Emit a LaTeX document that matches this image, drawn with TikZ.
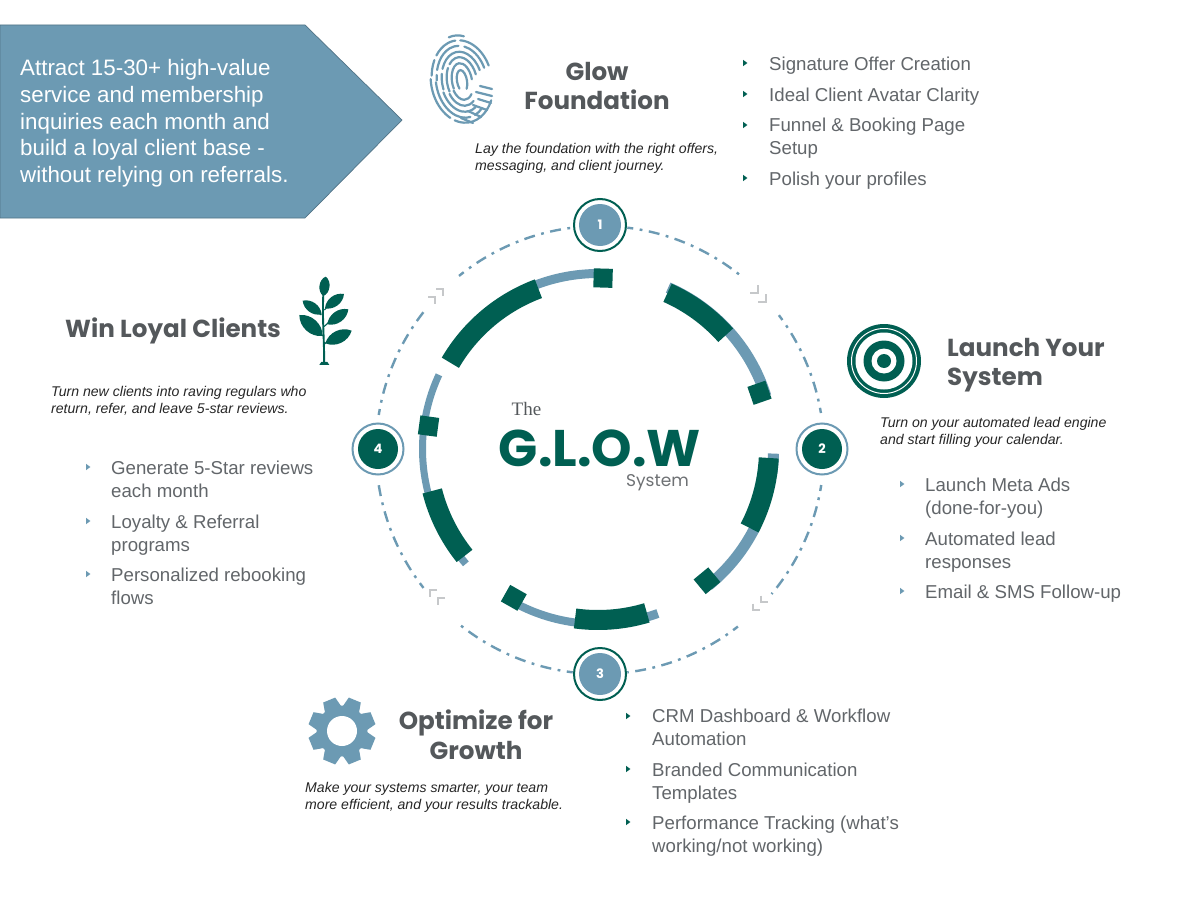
\documentclass[tikz,border=0pt]{standalone}
\usepackage{fontspec}
\setmainfont{Liberation Sans}
\newfontfamily\popfont{Poppins}
\newfontfamily\serfont{Liberation Serif}
\definecolor{glowgreen}{HTML}{005F52}
\definecolor{glowblue}{HTML}{6C9AB3}
\definecolor{headgray}{HTML}{54585B}
\definecolor{bodygray}{HTML}{62666A}
\definecolor{chevgray}{HTML}{C6C8CA}
\newcommand{\fs}[2]{\fontsize{#1}{#2}\selectfont}
\tikzset{
  x=1pt,y=1pt,
  heading/.style={font=\popfont\bfseries\fs{24.6}{30},text=headgray,inner sep=0pt,align=center},
  desc/.style={font=\itshape\fs{14.1}{17},text=black!85,inner sep=0pt,align=left,anchor=base west},
  item/.style={font=\fs{18.65}{23},text=bodygray,inner sep=0pt,align=left,anchor=base west},
  thinarc/.style={draw=glowblue,line width=9pt},
  thickarc/.style={draw=glowgreen,line width=20pt},
  dashring/.style={draw=glowblue,line width=2.4pt,dash pattern=on 11pt off 6.5pt on 2.8pt off 6.5pt,dash phase=5pt},
  chev/.style={draw=chevgray,line width=1.6pt,line cap=butt},
  numblue/.style={circle,fill=glowblue,minimum size=42pt,inner sep=0pt,text=white,font=\popfont\bfseries\fs{13}{15}},
  numgreen/.style={circle,fill=glowgreen,minimum size=40pt,inner sep=0pt,text=white,font=\popfont\bfseries\fs{13}{15}},
  ringgreen/.style={circle,draw=glowgreen,line width=2pt,minimum size=52pt,inner sep=0pt},
  ringblue/.style={circle,draw=glowblue,line width=2pt,minimum size=51pt,inner sep=0pt},
  finger/.style={draw=glowblue,line width=2.2pt,line cap=round},
}
% bullet triangle
\newcommand{\tri}[3]{\fill[#3] (#1-2,-#2-3.2) -- (#1+2.4,-#2) -- (#1-2,-#2+3.2) -- cycle;}
% arc on a circle about (cx,-cy): radius, from, to
\newcommand{\ringarc}[6]{\draw[#1] ({#2+#4*cos(#5)},{-#3+#4*sin(#5)}) arc[start angle=#5,end angle=#6,radius=#4];}
% square marker on ring
\newcommand{\marker}[1]{\fill[glowgreen,shift={({598+171*cos(#1)},{-449+171*sin(#1)})},rotate=#1] (-9.5,-9.5) rectangle (9.5,9.5);}
\newcommand{\leaf}[5]{\fill[glowgreen] (#1,-#2) to[bend left=#5] (#3,-#4) to[bend left=#5] (#1,-#2);}
\begin{document}
\begin{tikzpicture}
\useasboundingbox (0,-899) rectangle (1200,0);
\fill[white] (0,-899) rectangle (1200,0);

% --- banner arrow
\node[draw=none,inner sep=0pt] (bannerpt) at (402,-120) {};
\filldraw[fill=glowblue,draw=glowblue!75!black,line width=0.7pt] (0,-25) -- (305,-25) -- (bannerpt.center) -- (305,-218) -- (0,-218) -- cycle;
\node[font=\fs{22.35}{26.7},text=white,inner sep=0pt,align=left,anchor=base west] (bannertext) at (20,-182.5)
  {Attract 15-30+ high-value\\service and membership\\inquiries each month and\\build a loyal client base -\\without relying on referrals.};

% --- inner ring: thin arcs
\ringarc{thinarc}{598}{449}{175.5}{89}{111}
\ringarc{thinarc,line width=11pt}{598}{449}{176}{66.5}{17.5}
\ringarc{thinarc,line width=7pt}{598}{449}{175.5}{155}{196}
\ringarc{thinarc,line width=7.5pt}{598}{449}{175}{216}{221}
\ringarc{thinarc,line width=8pt}{598}{449}{175}{240}{264}
\ringarc{thinarc}{598}{449}{175}{284}{290}
\ringarc{thinarc,line width=11pt}{598}{449}{175.5}{309}{334}
\ringarc{thinarc,line width=11pt}{598}{449}{175.5}{352}{358.5}
% thick arcs
\ringarc{thickarc}{598}{449}{171}{110.4}{149.7}
\ringarc{thickarc}{598}{449}{171}{66}{41.7}
\ringarc{thickarc}{598}{449}{171}{194.2}{218.7}
\ringarc{thickarc}{598}{449}{171}{262.3}{286.6}
\ringarc{thickarc}{598}{449}{171}{332.5}{357}
% square markers
\marker{88.3}
\marker{19.2}
\marker{172.3}
\marker{240.5}
\marker{309.6}

% --- outer dash-dot ring
\ringarc{dashring}{600}{450}{224}{83}{51}
\ringarc{dashring}{600}{450}{224}{37}{9.5}
\ringarc{dashring}{600}{450}{224}{-9}{-40}
\ringarc{dashring}{600}{450}{224}{-52}{-83}
\ringarc{dashring}{600}{450}{224}{263}{231}
\ringarc{dashring}{600}{450}{224}{218}{189}
\ringarc{dashring}{600}{450}{224}{171}{142}
\ringarc{dashring}{600}{450}{224}{129}{97}

% chevrons
\foreach \cx/\cy in {757.7/292.7,765.7/301.7}{\draw[chev] (\cx-7.5,-\cy) -- (\cx,-\cy) -- (\cx,-\cy+7.5);}
\foreach \cx/\cy in {761/602,753/610}{\draw[chev] (\cx,-\cy+6.5) -- (\cx,-\cy) -- (\cx+7,-\cy);}
\foreach \cx/\cy in {430/590,438/598}{\draw[chev] (\cx+7,-\cy) -- (\cx,-\cy) -- (\cx,-\cy-7);}
\foreach \cx/\cy in {443/289,435/297}{\draw[chev] (\cx-7,-\cy) -- (\cx,-\cy) -- (\cx,-\cy-7);}

% --- numbered circles
\node[ringgreen,fill=white] (ring1) at (600,-225) {};
\node[numblue] (n1) at (600,-225) {1};
\node[ringblue,fill=white] (ring2) at (822,-449) {};
\node[numgreen] (n2) at (822,-449) {2};
\node[ringgreen,fill=white] (ring3) at (600,-674) {};
\node[numblue] (n3) at (600,-674) {3};
\node[ringblue,fill=white] (ring4) at (378,-449) {};
\node[numgreen] (n4) at (378,-449) {4};

% --- centre title
\node[font=\serfont\fs{19}{20},text=headgray,inner sep=0pt,anchor=base] (the) at (526.5,-415) {The};
\node[font=\popfont\bfseries\fs{51.5}{54},text=glowgreen,inner sep=0pt,anchor=base] (glow) at (600,-466) {G.L.O.W};
\node[font=\popfont\fs{17}{18},text=headgray!85,inner sep=0pt,anchor=base] (sys) at (657.5,-486) {System};

% --- headings
\node[heading,anchor=base] (h1) at (597,-81) {Glow};
\node[heading,anchor=base] (h1b) at (597,-110) {Foundation};
\node[heading,anchor=base west] (h4) at (65,-337) {Win Loyal Clients};
\node[heading,anchor=base west] (h2) at (947,-356) {Launch Your};
\node[heading,anchor=base west] (h2b) at (947,-385) {System};
\node[heading,anchor=base] (h3) at (476,-729) {Optimize for};
\node[heading,anchor=base] (h3b) at (476,-759) {Growth};

% --- descriptions (y = baseline of the last line)
\node[desc] (d1) at (475,-170) {Lay the foundation with the right offers,\\messaging, and client journey.};
\node[desc] (d4) at (51,-413) {Turn new clients into raving regulars who\\return, refer, and leave 5-star reviews.};
\node[desc] (d2) at (880,-444) {Turn on your automated lead engine\\and start filling your calendar.};
\node[desc] (d3) at (305,-809) {Make your systems smarter, your team\\more efficient, and your results trackable.};

% --- lists (y = baseline of the last line)
\node[item] (t1) at (769,-70.5) {Signature Offer Creation};
\node[item] (t2) at (769,-101.5) {Ideal Client Avatar Clarity};
\node[item] (t3) at (769,-154.5) {Funnel \& Booking Page\\Setup};
\node[item] (t4) at (769,-185.5) {Polish your profiles};
\tri{745}{63}{glowgreen}\tri{745}{94}{glowgreen}\tri{745}{125}{glowgreen}\tri{745}{178}{glowgreen}

\node[item] (l1) at (111,-497.5) {Generate 5-Star reviews\\each month};
\node[item] (l2) at (111,-551.5) {Loyalty \& Referral\\programs};
\node[item] (l3) at (111,-604.5) {Personalized rebooking\\flows};
\tri{88}{467}{glowblue}\tri{88}{521}{glowblue}\tri{88}{574}{glowblue}

\node[item] (r1) at (925,-514.5) {Launch Meta Ads\\(done-for-you)};
\node[item] (r2) at (925,-568.5) {Automated lead\\responses};
\node[item] (r3) at (925,-598.5) {Email \& SMS Follow-up};
\tri{902}{484}{glowblue}\tri{902}{538}{glowblue}\tri{902}{591}{glowblue}

\node[item] (b1) at (652,-745.5) {CRM Dashboard \& Workflow\\Automation};
\node[item] (b2) at (652,-799.5) {Branded Communication\\Templates};
\node[item] (b3) at (652,-852.5) {Performance Tracking (what's\\working/not working)};
\tri{628}{716}{glowgreen}\tri{628}{769}{glowgreen}\tri{628}{822}{glowgreen}

% --- fingerprint icon
\begin{scope}[shift={(462,-81)},rotate=10]
  \foreach \rx/\ry/\st/\en/\dsh in {
    31/46/72/100/{on 200pt},
    30/41/15/165/{on 40pt off 5pt on 25pt off 5pt},
    31/42/170/325/{on 45pt off 5pt on 70pt off 6pt},
    25/35.5/15/172/{on 30pt off 6pt on 35pt off 5pt},
    26/37/175/305/{on 55pt off 5pt on 30pt off 5pt},
    20/29.5/15/190/{on 55pt off 5pt},
    21/31/195/295/{on 45pt off 5pt},
    15/24/10/200/{on 38pt off 4pt},
    16/25/205/300/{on 200pt},
    10/18/0/200/{on 200pt},
    11/19/205/310/{on 200pt},
    5/11/-50/220/{on 200pt}}{
    \draw[finger,dash pattern/.expanded=\dsh]
      ({\rx*cos(\st)},{\ry*sin(\st)}) arc[start angle=\st,end angle=\en,x radius=\rx,y radius=\ry];
  }
\end{scope}
\foreach \a/\b/\c/\d in {480/86/492/89, 476/92/492/96, 478/99/491/103, 473/105/487/110, 468/111/481/117, 461/118/473/123}{
  \draw[finger] (\a,-\b) -- (\c,-\d);
}

% --- plant icon
\begin{scope}[shift={(280,-270)},scale=0.3333]
  \draw[glowgreen,line width=1.9pt] (132,-283) .. controls (134,-220) and (126,-150) .. (130,-72);
  \fill[glowgreen] (118,-285) -- (124,-276) -- (142,-276) -- (148,-285) -- cycle;
  \leaf{130}{78}{137}{20}{62}
  \leaf{135}{115}{192}{72}{48}
  \leaf{125}{133}{68}{92}{48}
  \leaf{142}{163}{205}{118}{48}
  \leaf{128}{198}{58}{135}{48}
  \leaf{136}{220}{215}{182}{48}
  \draw[glowgreen,line width=1.1pt] (133,-120) -- (148,-106) (124,-135) -- (105,-120) (132,-170) -- (148,-155) (128,-198) -- (105,-172) (134,-222) -- (150,-205);
\end{scope}

% --- target icon
\begin{scope}[shift={(884,-361)}]
  \fill[glowgreen] (0,0) circle (37);
  \draw[white,line width=1pt] (0,0) circle (32.5);
  \fill[white] (0,0) circle (28.5);
  \fill[glowgreen] (0,0) circle (20.5);
  \fill[white] (0,0) circle (12.5);
  \fill[glowgreen] (0,0) circle (7);
\end{scope}

% --- gear icon
\begin{scope}[shift={(342,-731)}]
  \fill[glowblue] (0,0) circle (25.5);
  \foreach \a in {22.5,67.5,...,337.5}{
    \fill[glowblue,rotate=\a] (22,-9) -- (33.5,-6.5) -- (33.5,6.5) -- (22,9) -- cycle;
  }
  \fill[white] (0,0) circle (15);
\end{scope}
\end{tikzpicture}
\end{document}
